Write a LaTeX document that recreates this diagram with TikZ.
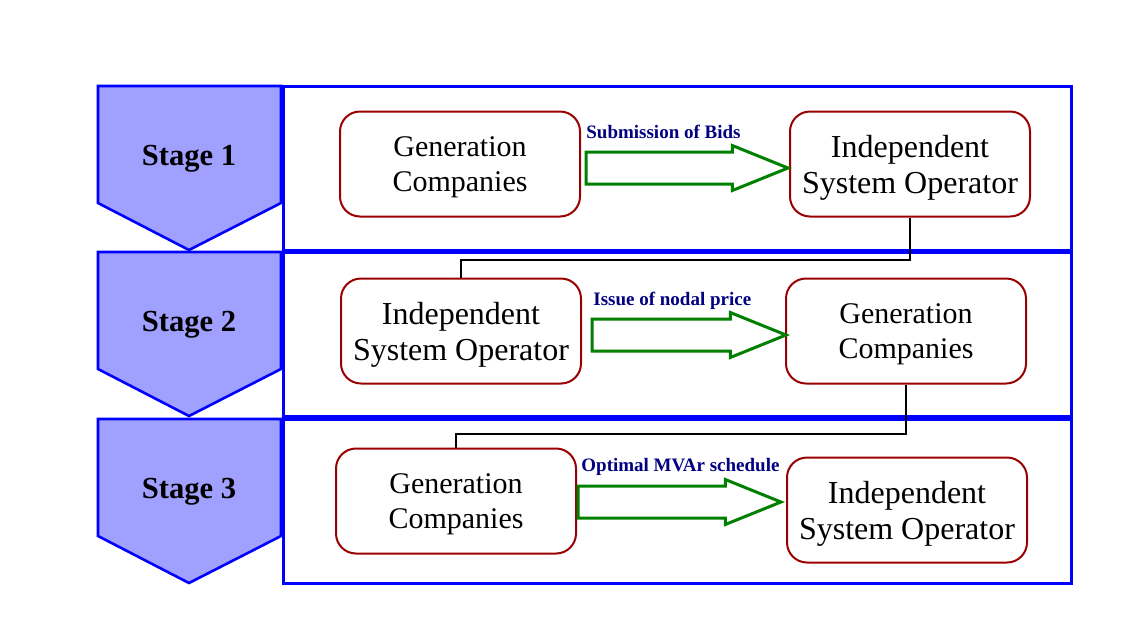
\documentclass[tikz,border=0pt]{standalone}
\usepackage{fontspec}
\setmainfont{Liberation Serif}
\usetikzlibrary{shapes.arrows}

\definecolor{stagefill}{RGB}{160,160,255}
\definecolor{stageblue}{RGB}{0,0,255}
\definecolor{boxred}{RGB}{153,0,0}
\definecolor{arrowgreen}{RGB}{0,128,0}
\definecolor{labelblue}{RGB}{0,0,128}

\tikzset{
  party/.style={draw=boxred,line width=1pt,rounded corners=10pt,
    minimum width=120pt,minimum height=52.5pt,align=center,inner sep=0pt},
  gencobox/.style={party,font=\fontsize{15}{17.5}\selectfont,text depth=-1.7pt},
  isobox/.style={party,font=\fontsize{16}{18}\selectfont,text depth=-0.5pt},
  bigarrow/.style={single arrow,draw=arrowgreen,line width=1.5pt,fill=white,
    inner sep=7.25pt,single arrow head extend=3.25pt,
    single arrow tip angle=44,anchor=tip},
  arrowlabel/.style={text=labelblue,font=\fontsize{9.5}{11}\selectfont\bfseries,
    inner sep=0pt,anchor=base west},
  link/.style={draw=black,line width=1pt}
}

\begin{document}
\begin{tikzpicture}[x=0.5pt,y=-0.5pt]
\useasboundingbox (0,0) rectangle (1146,634);

% stages and panels
\foreach \i/\y in {1/86,2/252,3/419}{
  \draw[stageblue,line width=1.5pt] (283,\y) rectangle (1071,\y+164);
  \draw[stageblue,line width=1.3pt,fill=stagefill]
    (98,\y) -- (281,\y) -- (281,\y+117) -- (189,\y+164) -- (98,\y+117) -- cycle;
  \node[font=\fontsize{15.3}{17}\selectfont\bfseries] (stage\i) at (189,\y+73) {Stage \i};
}

% stage 1
\node[gencobox] (gen1) at (460,164) {Generation\\Companies};
\node[isobox] (iso1) at (910,164) {Independent\\System Operator};
\node[bigarrow,minimum height=101pt] (bid) at ([xshift=1.5pt,yshift=-2pt]iso1.west) {};
\node[arrowlabel] (bidtext) at (586,138) {Submission of Bids};

% stage 2
\node[isobox] (iso2) at (461,331) {Independent\\System Operator};
\node[gencobox] (gen2) at (906,331) {Generation\\Companies};
\node[bigarrow,minimum height=97pt] (price) at ([xshift=2.5pt,yshift=-2pt]gen2.west) {};
\node[arrowlabel] (pricetext) at (593,305) {Issue of nodal price};

% stage 3
\node[gencobox] (gen3) at (456,501) {Generation\\Companies};
\node[isobox] (iso3) at (907,510) {Independent\\System Operator};
\node[bigarrow,minimum height=101.5pt] (sched) at ([xshift=-0.5pt,yshift=4pt]iso3.west) {};
\node[arrowlabel] (schedtext) at (581,471) {Optimal MVAr schedule};

% links between stages
\draw[link] (iso1.south) -- ++(0,42) -| (iso2.north);
\draw[link] (gen2.south) -- ++(0,49) -| (gen3.north);
\end{tikzpicture}
\end{document}
